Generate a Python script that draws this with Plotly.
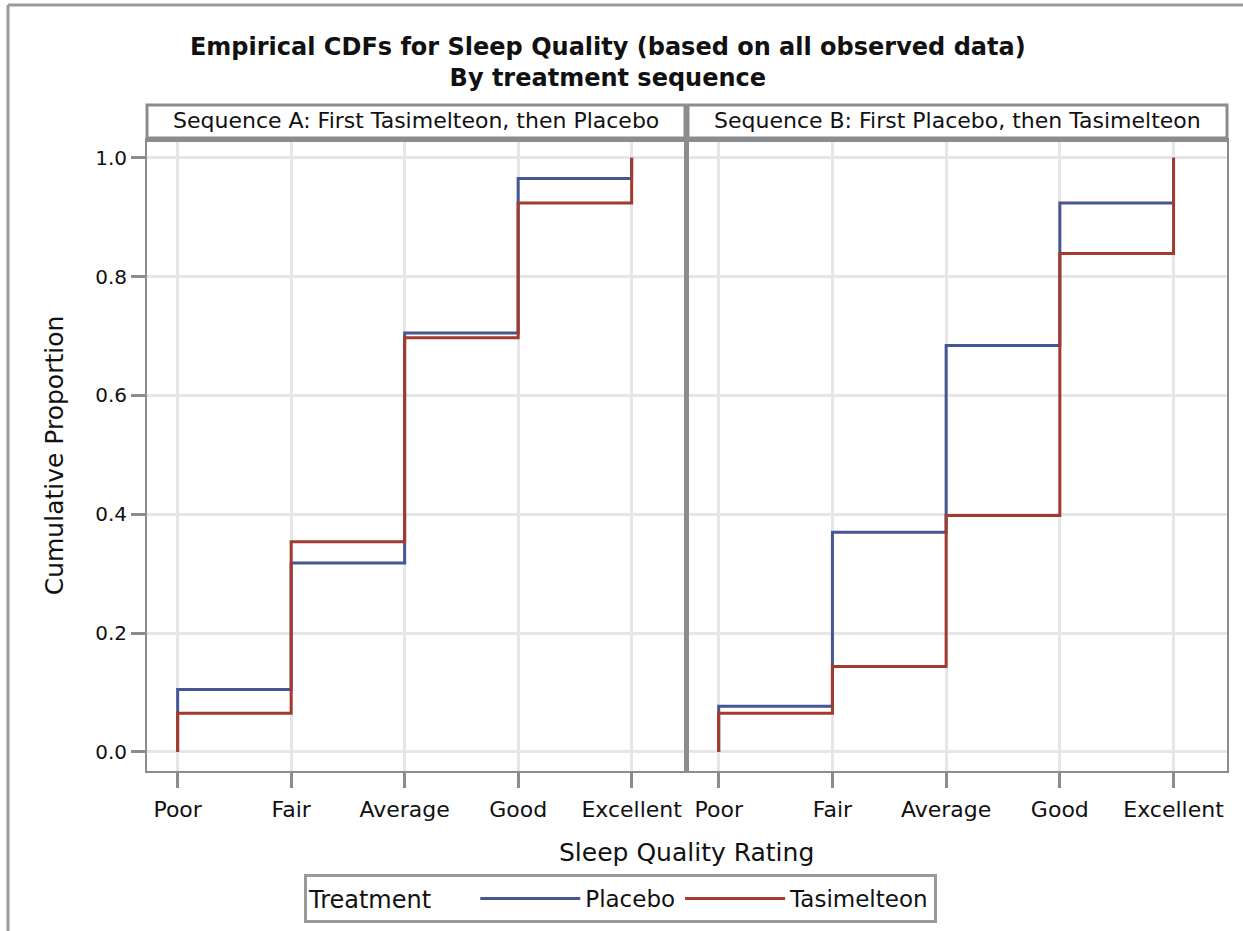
import plotly.graph_objects as go

W, H = 1243, 931

categories = ["Poor", "Fair", "Average", "Good", "Excellent"]
panel_titles = ["Sequence A: First Tasimelteon, then Placebo",
                "Sequence B: First Placebo, then Tasimelteon"]
treatments = ["Placebo", "Tasimelteon"]

# cumulative proportions
seqA_placebo = [0.105, 0.318, 0.705, 0.965, 1.0]
seqA_tasimelteon = [0.065, 0.354, 0.697, 0.924, 1.0]
seqB_placebo = [0.077, 0.370, 0.684, 0.924, 1.0]
seqB_tasimelteon = [0.065, 0.144, 0.398, 0.839, 1.0]

yticks = [0.0, 0.2, 0.4, 0.6, 0.8, 1.0]

colors = {"Placebo": "#445694", "Tasimelteon": "#A23A2E"}
AXIS_GRAY = "#8A8C8E"
GRID = "#E6E6E6"
FONT = "DejaVu Sans"


def px_x(p):
    return p / W


def px_y(p):
    return 1 - p / H


panels = [
    ({"Placebo": seqA_placebo, "Tasimelteon": seqA_tasimelteon}, "x", "y"),
    ({"Placebo": seqB_placebo, "Tasimelteon": seqB_tasimelteon}, "x2", "y2"),
]

fig = go.Figure()
xpos = list(range(len(categories)))
for i, (data, xa, ya) in enumerate(panels):
    for t in treatments:
        vals = data[t]
        xs = [xpos[0]] + xpos
        ys = [0.0] + vals
        fig.add_trace(go.Scatter(
            x=xs, y=ys, mode="lines", line=dict(color=colors[t], width=3, shape="hv"),
            name=t, legendgroup=t, showlegend=(i == 0), xaxis=xa, yaxis=ya,
            hoverinfo="skip"))

domA = [px_x(147), px_x(685)]
domB = [px_x(688), px_x(1227)]
ydom = [px_y(771), px_y(140)]
xr = [-0.27, 4.47]
yr = [-0.032, 1.030]

xcommon = dict(range=xr, tickvals=xpos, ticktext=categories, showgrid=True,
               gridcolor=GRID, gridwidth=3, zeroline=False, showline=True,
               linecolor=AXIS_GRAY, linewidth=2, mirror=True, ticks="outside",
               ticklen=15, tickwidth=3, tickcolor=AXIS_GRAY, ticklabelstandoff=3,
               tickfont=dict(family=FONT, size=22, color="#111"))
ycommon = dict(range=yr, tickvals=yticks, showgrid=True, gridcolor=GRID, gridwidth=3,
               zeroline=False, showline=True, linecolor=AXIS_GRAY, linewidth=2,
               mirror=True, domain=ydom)

fig.update_layout(
    width=W, height=H, margin=dict(l=0, r=0, t=0, b=0),
    paper_bgcolor="white", plot_bgcolor="white",
    font=dict(family=FONT, color="#111"),
    xaxis=dict(domain=domA, anchor="y", **xcommon),
    xaxis2=dict(domain=domB, anchor="y2", **xcommon),
    yaxis=dict(anchor="x", ticks="outside", ticklen=14, tickwidth=3, tickcolor=AXIS_GRAY,
               tickformat=".1f", tickfont=dict(family=FONT, size=20, color="#111"),
               title=dict(text="Cumulative Proportion", font=dict(family=FONT, size=25, color="#111"),
                          standoff=24),
               **ycommon),
    yaxis2=dict(anchor="x2", showticklabels=False, ticks="", **ycommon),
    showlegend=True,
    legend=dict(orientation="h", x=px_x(304), y=px_y(874), xanchor="left", yanchor="top",
                bordercolor="#9A9A9A", borderwidth=3, bgcolor="white",
                title=dict(text="Treatment     ", font=dict(family=FONT, size=24, color="#111")),
                font=dict(family=FONT, size=23, color="#111"), itemwidth=100,
                tracegroupgap=0),
    title=dict(text="<b>Empirical CDFs for Sleep Quality (based on all observed data)<br>By treatment sequence</b>",
               x=0.489, xanchor="center", y=px_y(55), yanchor="top",
               font=dict(family=FONT, size=24, color="#111")),
)

shapes = []
annotations = []
for dom, title in zip([domA, domB], panel_titles):
    shapes.append(dict(type="rect", xref="paper", yref="paper", x0=dom[0], x1=dom[1],
                       y0=px_y(138), y1=px_y(105), line=dict(color=AXIS_GRAY, width=3),
                       fillcolor="white", layer="above"))
    annotations.append(dict(text=title, xref="paper", yref="paper", x=(dom[0] + dom[1]) / 2,
                            y=px_y(121), xanchor="center", yanchor="middle", showarrow=False,
                            font=dict(family=FONT, size=22, color="#111")))
# thick line under headers
shapes.append(dict(type="line", xref="paper", yref="paper", x0=domA[0], x1=domB[1],
                   y0=px_y(140), y1=px_y(140), line=dict(color=AXIS_GRAY, width=4)))
# thick divider between panels
shapes.append(dict(type="line", xref="paper", yref="paper", x0=px_x(686.5), x1=px_x(686.5),
                   y0=px_y(771), y1=px_y(105), line=dict(color=AXIS_GRAY, width=5)))
# outer frame
shapes.append(dict(type="line", xref="paper", yref="paper", x0=px_x(8), x1=px_x(8),
                   y0=0, y1=px_y(5), line=dict(color="#9A9A9A", width=3)))
shapes.append(dict(type="line", xref="paper", yref="paper", x0=px_x(8), x1=1,
                   y0=px_y(5), y1=px_y(5), line=dict(color="#9A9A9A", width=3)))

annotations.append(dict(text="Sleep Quality Rating", xref="paper", yref="paper",
                        x=px_x(686), y=px_y(852), xanchor="center", yanchor="middle",
                        showarrow=False, font=dict(family=FONT, size=25, color="#111")))

fig.update_layout(shapes=shapes, annotations=annotations)
fig.write_html("out.html")
